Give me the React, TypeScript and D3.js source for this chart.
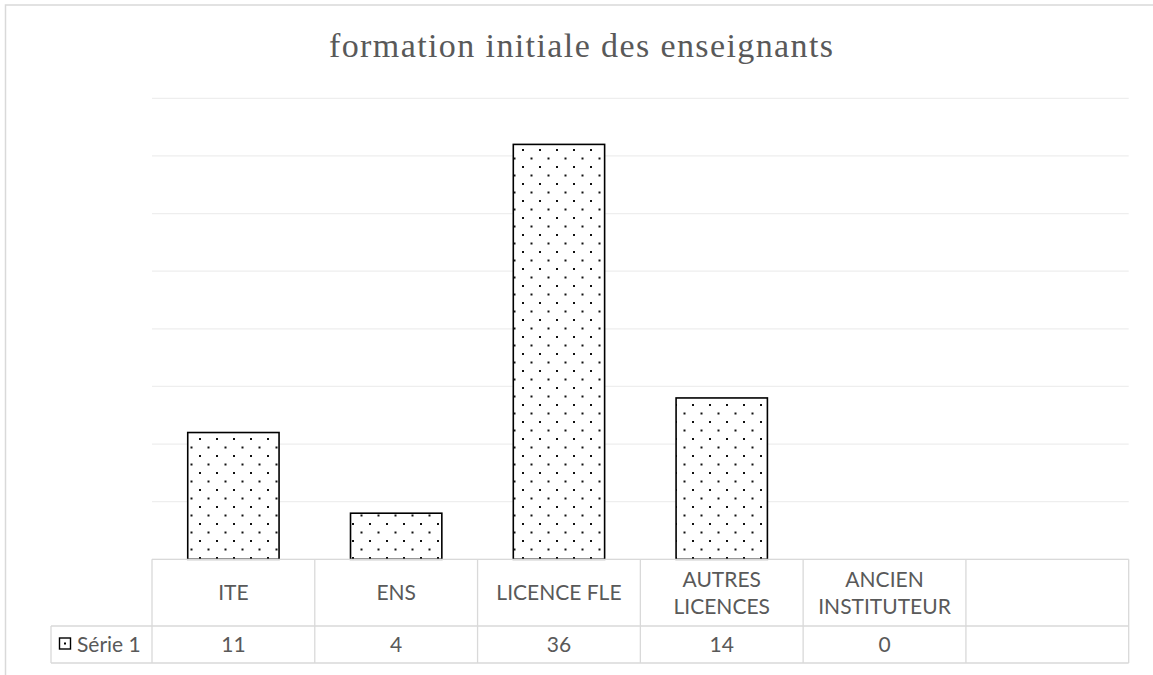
import React from "react";
import * as d3 from "d3";

const title = "formation initiale des enseignants";
const categoryLines: string[][] = [
  ["ITE"],
  ["ENS"],
  ["LICENCE FLE"],
  ["AUTRES", "LICENCES"],
  ["ANCIEN", "INSTITUTEUR"],
  [""],
];
const values: (number | null)[] = [11, 4, 36, 14, 0, null];
const valueLabels: string[] = ["11", "4", "36", "14", "0", ""];
const seriesName = "Série 1";
const gridTicks = [0, 5, 10, 15, 20, 25, 30, 35, 40];

const W = 1153;
const H = 675;
const plotLeft = 152;
const plotRight = 1128.7;
const plotTop = 98.3;
const baseY = 559.3;
const rowDiv = 626;
const tableBottom = 663;
const legendLeft = 51;
const gridColor = "#eeeeee";
const lineColor = "#d9d9d9";
const textColor = "#595959";
const sans = "Lato, 'Liberation Sans', Arial, sans-serif";
const fs = 21;

export default function App() {
  const x = d3
    .scaleBand<number>()
    .domain(categoryLines.map((_, i) => i))
    .range([plotLeft, plotRight])
    .padding(0);
  const y = d3.scaleLinear().domain([0, 40]).range([baseY, plotTop]);
  const bw = x.bandwidth();
  const barW = bw * 0.561;
  const lineH = 27;

  return (
    <svg
      width={W}
      height={H}
      style={{ position: "absolute", left: 0, top: 0, background: "#fff" }}
    >
      <defs>
        <pattern
          id="dots"
          patternUnits="userSpaceOnUse"
          x={12}
          y={13}
          width={17}
          height={17}
        >
          <rect x={0} y={0} width={17} height={17} fill="#fff" />
          <rect x={0} y={0} width={2} height={2} fill="#111" />
          <rect x={8.5} y={8.5} width={2} height={2} fill="#111" />
        </pattern>
      </defs>
      <rect x={0} y={0} width={W} height={H} fill="#fff" />
      <rect
        x={5.5}
        y={5}
        width={1160}
        height={700}
        fill="#fff"
        stroke={lineColor}
        strokeWidth={1.5}
      />
      <text
        x={329}
        y={57.3}
        textLength={504}
        lengthAdjust="spacing"
        fontFamily="'Liberation Serif', 'Times New Roman', serif"
        fontSize={34}
        fill={textColor}
      >
        {title}
      </text>
      {gridTicks.map((t) => (
        <line
          key={t}
          x1={plotLeft}
          x2={plotRight}
          y1={y(t)}
          y2={y(t)}
          stroke={gridColor}
          strokeWidth={1.2}
        />
      ))}
      {values.map((v, i) =>
        v === null || v === 0 ? null : (
          <rect
            key={i}
            x={(x(i) as number) + (bw - barW) / 2}
            y={y(v)}
            width={barW}
            height={baseY - y(v)}
            fill="url(#dots)"
            stroke="#000"
            strokeWidth={1.6}
          />
        )
      )}
      {/* data table */}
      <g stroke={lineColor} strokeWidth={1.3} fill="none">
        <line x1={plotLeft} x2={plotRight} y1={baseY} y2={baseY} />
        <line x1={legendLeft} x2={plotRight} y1={rowDiv} y2={rowDiv} />
        <line x1={legendLeft} x2={plotRight} y1={tableBottom} y2={tableBottom} />
        <line x1={legendLeft} x2={legendLeft} y1={rowDiv} y2={tableBottom} />
        {categoryLines.map((_, i) => (
          <line
            key={i}
            x1={x(i) as number}
            x2={x(i) as number}
            y1={baseY}
            y2={tableBottom}
          />
        ))}
        <line x1={plotRight} x2={plotRight} y1={baseY} y2={tableBottom} />
      </g>
      {categoryLines.map((lines, i) => {
        const cx = (x(i) as number) + bw / 2;
        const cy = (baseY + rowDiv) / 2;
        const start = cy - ((lines.length - 1) * lineH) / 2;
        return (
          <text
            key={i}
            textAnchor="middle"
            fontFamily={sans}
            fontSize={fs}
            fill={textColor}
          >
            {lines.map((l, j) => (
              <tspan key={j} x={cx} y={start + j * lineH} dy="0.36em">
                {l}
              </tspan>
            ))}
          </text>
        );
      })}
      {valueLabels.map((l, i) => (
        <text
          key={i}
          x={(x(i) as number) + bw / 2}
          y={(rowDiv + tableBottom) / 2}
          dy="0.36em"
          textAnchor="middle"
          fontFamily={sans}
          fontSize={fs}
          fill={textColor}
        >
          {l}
        </text>
      ))}
      <rect
        x={59.5}
        y={638}
        width={11}
        height={11}
        fill="#fff"
        stroke="#000"
        strokeWidth={1.4}
      />
      <rect x={64} y={642.5} width={2} height={2} fill="#000" />
      <text
        x={77}
        y={(rowDiv + tableBottom) / 2}
        dy="0.36em"
        fontFamily={sans}
        fontSize={fs}
        fill={textColor}
      >
        {seriesName}
      </text>
    </svg>
  );
}
